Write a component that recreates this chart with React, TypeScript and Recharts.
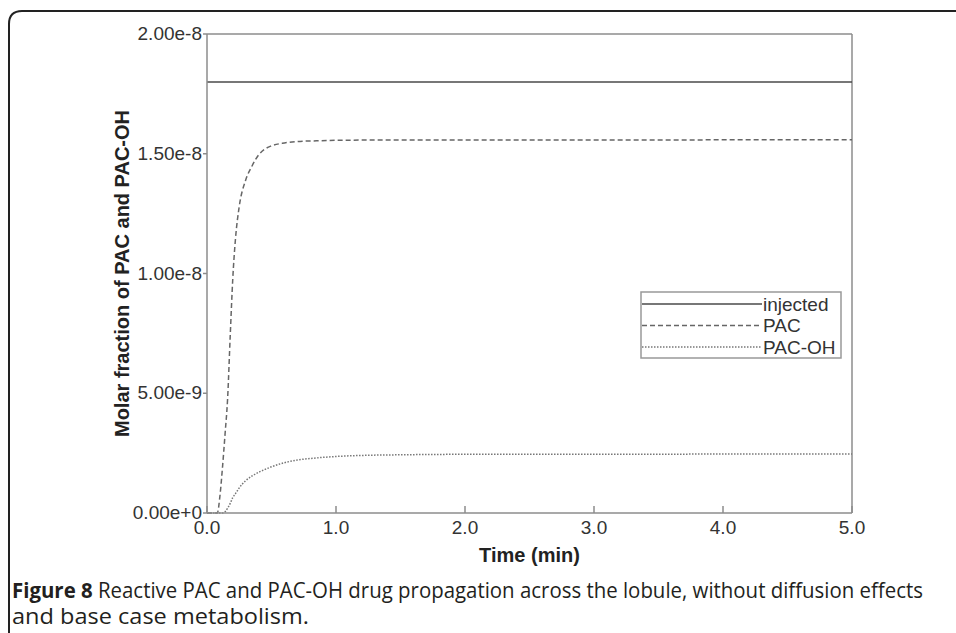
import React from 'react';
import { LineChart, Line, XAxis, YAxis, Legend, ReferenceLine } from 'recharts';

const time = [0, 0.05, 0.08, 0.1, 0.12, 0.14, 0.16, 0.18, 0.2, 0.22, 0.25, 0.3, 0.35, 0.4, 0.45, 0.5, 0.6, 0.7, 0.85, 1.0, 1.25, 1.5, 2.0, 3.0, 4.0, 5.0];
const injected = [1.8e-8, 1.8e-8, 1.8e-8, 1.8e-8, 1.8e-8, 1.8e-8, 1.8e-8, 1.8e-8, 1.8e-8, 1.8e-8, 1.8e-8, 1.8e-8, 1.8e-8, 1.8e-8, 1.8e-8, 1.8e-8, 1.8e-8, 1.8e-8, 1.8e-8, 1.8e-8, 1.8e-8, 1.8e-8, 1.8e-8, 1.8e-8, 1.8e-8, 1.8e-8];
const pac = [0, 0, 0, 0.07e-8, 0.19e-8, 0.33e-8, 0.48e-8, 0.74e-8, 0.98e-8, 1.14e-8, 1.28e-8, 1.39e-8, 1.45e-8, 1.495e-8, 1.52e-8, 1.533e-8, 1.545e-8, 1.551e-8, 1.554e-8, 1.556e-8, 1.557e-8, 1.557e-8, 1.557e-8, 1.557e-8, 1.558e-8, 1.558e-8];
const pacOh = [0, 0, 0, 0, 0, 0.005e-8, 0.02e-8, 0.04e-8, 0.065e-8, 0.08e-8, 0.105e-8, 0.135e-8, 0.155e-8, 0.17e-8, 0.182e-8, 0.193e-8, 0.21e-8, 0.221e-8, 0.23e-8, 0.236e-8, 0.241e-8, 0.243e-8, 0.245e-8, 0.245e-8, 0.246e-8, 0.246e-8];

const xTicks = [0, 1, 2, 3, 4, 5];
const xTickLabels = ['0.0', '1.0', '2.0', '3.0', '4.0', '5.0'];
const yTicks = [0, 5e-9, 1e-8, 1.5e-8, 2e-8];
const yTickLabels = ['0.00e+0', '5.00e-9', '1.00e-8', '1.50e-8', '2.00e-8'];

const seriesNames = ['injected', 'PAC', 'PAC-OH'];
const captionBold = 'Figure 8';
const captionLine1 = ' Reactive PAC and PAC-OH drug propagation across the lobule, without diffusion effects';
const captionLine2 = 'and base case metabolism.';
const xLabel = 'Time (min)';
const yLabel = 'Molar fraction of PAC and PAC-OH';

const data = time.map((t, i) => ({ t, injected: injected[i], pac: pac[i], pacOh: pacOh[i] }));

const FONT = '"Liberation Sans", Arial, sans-serif';
const AXIS = '#8c8c8c';

const XTick = (props: any) => {
  const { x, y, payload } = props;
  const idx = xTicks.indexOf(payload.value);
  return (
    <g>
      <line x1={x} x2={x} y1={y} y2={y - 7} stroke={AXIS} strokeWidth={1.5} />
      <text x={x} y={y + 21} textAnchor="middle" fontSize={19} fill="#333" fontFamily={FONT}>
        {idx >= 0 ? xTickLabels[idx] : ''}
      </text>
    </g>
  );
};

const YTick = (props: any) => {
  const { x, y, payload } = props;
  const idx = yTicks.indexOf(payload.value);
  return (
    <text x={x} y={y} dy={6} textAnchor="end" fontSize={19} fill="#333" fontFamily={FONT}>
      {idx >= 0 ? yTickLabels[idx] : ''}
    </text>
  );
};

const LegendBox = (props: any) => {
  const payload = [...(props.payload || [])].sort(
    (a: any, b: any) => seriesNames.indexOf(a.value) - seriesNames.indexOf(b.value)
  );
  return (
    <svg width={203} height={69} style={{ display: 'block' }}>
      <rect x={1} y={1} width={200} height={66} fill="#fff" stroke="#999" strokeWidth={1.5} />
      {payload.map((p: any, i: number) => {
        const cy = 13 + i * 21.5;
        return (
          <g key={i}>
            <line x1={2} x2={122} y1={cy} y2={cy} stroke={p.color} strokeWidth={1.5} strokeDasharray={p.payload?.strokeDasharray} />
            <text x={123} y={cy + 6.5} fontSize={19} fill="#333" fontFamily={FONT}>{p.value}</text>
          </g>
        );
      })}
    </svg>
  );
};

export default function App() {
  return (
    <div style={{ position: 'absolute', left: 0, top: 0, width: 956, height: 633, background: '#fff', overflow: 'hidden' }}>
      <LineChart width={956} height={633} data={data} margin={{ top: 34, right: 104, bottom: 0, left: 0 }}>
        <XAxis
          dataKey="t"
          type="number"
          domain={[0, 5]}
          ticks={xTicks}
          tickSize={0}
          tickMargin={0}
          tick={<XTick />}
          axisLine={{ stroke: AXIS, strokeWidth: 1.5 }}
          tickLine={false}
          height={120}
          interval={0}
          label={{
            content: (p: any) => {
              const vb = p.viewBox || {};
              return (
                <text x={vb.x + vb.width / 2} y={vb.y + 49} textAnchor="middle" fontSize={20} fontWeight="bold" fill="#222" fontFamily={FONT}>
                  {xLabel}
                </text>
              );
            },
          }}
        />
        <YAxis
          type="number"
          domain={[0, 2e-8]}
          ticks={yTicks}
          tickSize={4}
          tickMargin={1}
          width={207}
          tick={<YTick />}
          axisLine={{ stroke: AXIS, strokeWidth: 1.5 }}
          tickLine={{ stroke: AXIS, strokeWidth: 1.5 }}
          interval={0}
          label={{
            content: (p: any) => {
              const vb = p.viewBox || {};
              const cx = 122;
              const cy = vb.y + vb.height / 2;
              return (
                <text x={cx} y={cy} transform={`rotate(-90 ${cx} ${cy})`} textAnchor="middle" dominantBaseline="central" fontSize={20} fontWeight="bold" fill="#222" fontFamily={FONT}>
                  {yLabel}
                </text>
              );
            },
          }}
        />
        <ReferenceLine y={2e-8} stroke={AXIS} strokeWidth={1.5} ifOverflow="extendDomain" />
        <ReferenceLine x={5} stroke={AXIS} strokeWidth={1.5} />
        <Line dataKey="injected" name={seriesNames[0]} type="monotone" stroke="#4a4a4a" strokeWidth={1.5} dot={false} isAnimationActive={false} />
        <Line dataKey="pac" name={seriesNames[1]} type="monotone" stroke="#666" strokeWidth={1.5} strokeDasharray="5 3" dot={false} isAnimationActive={false} />
        <Line dataKey="pacOh" name={seriesNames[2]} type="monotone" stroke="#777" strokeWidth={1.5} strokeDasharray="1.5 1.5" dot={false} isAnimationActive={false} />
        <Legend
          layout="vertical"
          align="center"
          verticalAlign="middle"
          content={<LegendBox />}
          wrapperStyle={{ position: 'absolute', left: 640, top: 291, width: 203, height: 69 }}
        />
      </LineChart>
      <svg width={956} height={633} style={{ position: 'absolute', left: 0, top: 0, pointerEvents: 'none' }}>
        <path d="M 9 640 L 9 24 Q 9 11 22 11 L 960 11" fill="none" stroke="#222" strokeWidth={2} />
        <text x={12} y={598} fontSize={21} fill="#231f20" fontFamily='"Open Sans", sans-serif' textLength={911} lengthAdjust="spacingAndGlyphs">
          <tspan fontWeight="bold">{captionBold}</tspan>
          <tspan fontWeight={500}>{captionLine1}</tspan>
        </text>
        <text x={12} y={624} fontSize={21} fill="#231f20" fontFamily='"Open Sans", sans-serif' fontWeight={500} textLength={297} lengthAdjust="spacingAndGlyphs">
          {captionLine2}
        </text>
      </svg>
    </div>
  );
}
